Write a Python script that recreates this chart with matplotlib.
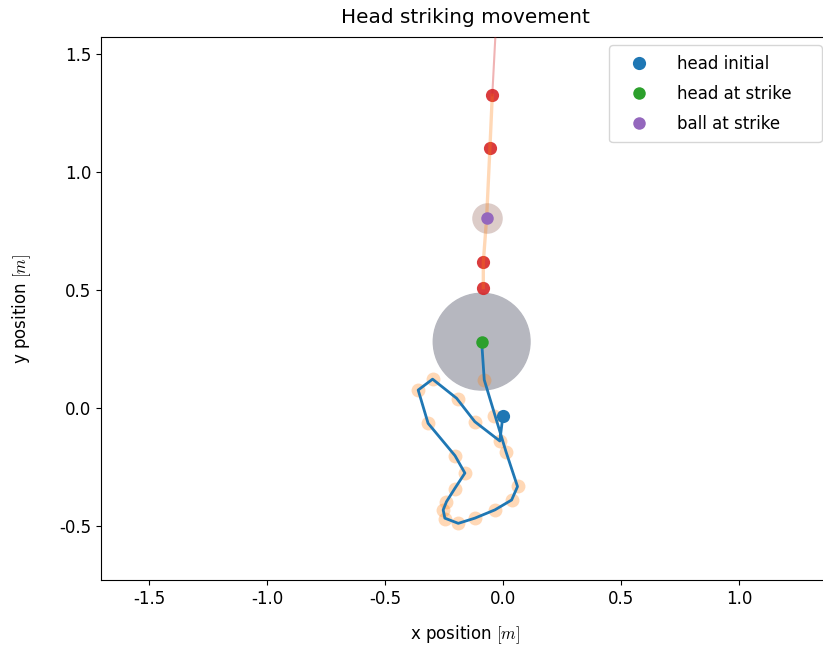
import numpy as np
import matplotlib
matplotlib.use("Agg")
from matplotlib import pyplot as plt
from matplotlib.patches import Circle

plt.rcParams['axes.unicode_minus'] = False
plt.rcParams['mathtext.fontset'] = 'cm'
plt.rcParams['font.size'] = 12

# head path (blue line), from initial position to the strike
head_x = [0.0, -0.013, -0.119, -0.196, -0.298, -0.359, -0.317, -0.203, -0.161, -0.203, -0.239,
          -0.253, -0.246, -0.189, -0.119, -0.034, 0.037, 0.062, 0.013, -0.079, -0.090]
head_y = [-0.034, -0.140, -0.058, 0.041, 0.122, 0.076, -0.065, -0.202, -0.276, -0.340, -0.397,
          -0.432, -0.467, -0.489, -0.467, -0.432, -0.390, -0.333, -0.185, 0.119, 0.281]

# sampled head positions (light orange markers)
samp_x = [-0.037, -0.013, -0.119, -0.189, -0.298, -0.359, -0.317, -0.203, -0.161, -0.203, -0.239,
          -0.253, -0.246, -0.189, -0.119, -0.034, 0.037, 0.062, 0.013, -0.079]
samp_y = [-0.034, -0.140, -0.058, 0.037, 0.122, 0.076, -0.062, -0.202, -0.276, -0.345, -0.397,
          -0.432, -0.472, -0.489, -0.467, -0.432, -0.390, -0.329, -0.185, 0.119]

# ball trajectory
ball_x = [-0.083, -0.083, -0.055, -0.045]
ball_y = [0.510, 0.617, 1.100, 1.325]
ball_line_x = [-0.083, -0.083, -0.069, -0.055, -0.045]
ball_line_y = [0.510, 0.617, 0.804, 1.100, 1.325]
ball_after_x = [-0.045, -0.020]
ball_after_y = [1.325, 1.800]

head_init = (0.0, -0.034)
head_strike = (-0.090, 0.281)
ball_strike = (-0.069, 0.804)
head_radius = 0.205

labels = ['head initial', 'head at strike', 'ball at strike']

fig = plt.figure(figsize=(8.23, 6.45), dpi=100)
# axes run a little past the right edge of the picture, as in the cropped original
ax = fig.add_axes([0.1227, 0.1008, 0.8858, 0.8418])

ax.add_patch(Circle(head_strike, head_radius, color='#b6b7bf', zorder=1))
ax.plot(samp_x, samp_y, 'o', color='tab:orange', alpha=0.3, ms=10, mew=0, zorder=2)
ax.plot(head_x, head_y, '-', color='tab:blue', lw=2.0, zorder=3)

ax.plot(ball_x, ball_y, 'o', color='tab:red', alpha=0.9, ms=9.5, mew=0, zorder=2)
ax.plot(ball_strike[0], ball_strike[1], 'o', color='tab:brown', alpha=0.3, ms=22, mew=0, zorder=2)
ax.plot(ball_line_x, ball_line_y, '-', color='tab:orange', alpha=0.3, lw=2.4, zorder=3)
ax.plot(ball_after_x, ball_after_y, '-', color='tab:red', alpha=0.35, lw=1.5, zorder=3)

# trailing spaces give the wider legend box of the original
ax.plot(head_init[0], head_init[1], 'o', color='tab:blue', ms=9.5, mew=0, zorder=4, label=labels[0] + '    ')
ax.plot(head_strike[0], head_strike[1], 'o', color='tab:green', ms=9, mew=0, zorder=4, label=labels[1] + '    ')
ax.plot(ball_strike[0], ball_strike[1], 'o', color='tab:purple', ms=9, mew=0, zorder=4, label=labels[2] + '    ')

ax.set_xlim(-1.703, 1.386)
ax.set_ylim(-0.729, 1.572)
ax.set_xticks([-1.5, -1.0, -0.5, 0.0, 0.5, 1.0])
ax.set_yticks([-0.5, 0.0, 0.5, 1.0, 1.5])
ax.set_xlabel(r'x position $[m]$', labelpad=11)
ax.set_ylabel(r'y position $[m]$', labelpad=19)
ax.set_title('Head striking movement', pad=10)
ax.legend(loc='upper right', handlelength=2.5, handletextpad=1.0, borderpad=0.55, labelspacing=0.74)

fig.savefig('out.png', dpi=100)
